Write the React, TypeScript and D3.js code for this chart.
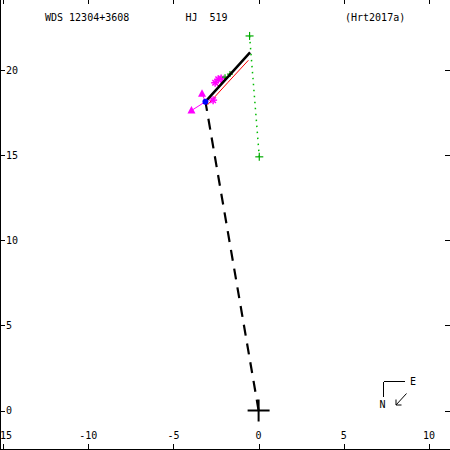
import React from "react";
import * as d3 from "d3";

const W = 450;
const H = 450;

// tick values
const xTicks = [-15, -10, -5, 0, 5, 10];
const yTicks = [0, 5, 10, 15, 20];

// title texts
const titleLeft = "WDS 12304+3608";
const titleMid = "HJ  519";
const titleRight = "(Hrt2017a)";

// orbit arc (black solid)
const orbitX = [-3.12, -1.8, -0.5];
const orbitY = [18.14, 19.6, 21.03];

// red line (alternate orbit)
const redX = [-3.0, -1.8, -0.6];
const redY = [17.95, 19.27, 20.57];

// line from primary to periastron (dashed)
const nodeX = [0, -3.12];
const nodeY = [0, 18.14];

// green dotted segment with end markers
const greenX = [-0.53, 0.04];
const greenY = [22.0, 14.9];

// small green plus measurements
const gPlusX = [-1.97, -1.68];
const gPlusY = [19.58, 19.76];

// magenta asterisk measurements
const astX = [-2.55, -2.37, -2.2, -2.67];
const astY = [19.25, 19.45, 19.5, 18.23];

// magenta triangle measurements
const triX = [-3.32, -3.94];
const triY = [18.61, 17.62];

// periastron dot
const periX = -3.12;
const periY = 18.14;

export default function App() {
  const x = d3.scaleLinear().domain([-15, 10]).range([3, 429]);
  const y = d3.scaleLinear().domain([0, 20]).range([410.5, 70]);

  const line = d3
    .line<[number, number]>()
    .x((d) => x(d[0]))
    .y((d) => y(d[1]));

  const orbit = orbitX.map((v, i) => [v, orbitY[i]] as [number, number]);
  const red = redX.map((v, i) => [v, redY[i]] as [number, number]);
  const node = nodeX.map((v, i) => [v, nodeY[i]] as [number, number]);
  const green = greenX.map((v, i) => [v, greenY[i]] as [number, number]);

  const font = "'DejaVu Sans Mono', monospace";

  // nearest point on the orbit polyline for O-C lines
  const nearest = (px: number, py: number): [number, number] => {
    let best: [number, number] = orbit[0];
    let bd = Infinity;
    for (let i = 0; i < orbit.length - 1; i++) {
      const [ax, ay] = orbit[i];
      const [bx, by] = orbit[i + 1];
      const dx = bx - ax, dy = by - ay;
      let t = ((px - ax) * dx + (py - ay) * dy) / (dx * dx + dy * dy);
      t = Math.max(0, Math.min(1, t));
      const qx = ax + t * dx, qy = ay + t * dy;
      const d = (qx - px) ** 2 + (qy - py) ** 2;
      if (d < bd) { bd = d; best = [qx, qy]; }
    }
    return best;
  };

  const asterisk = (cx: number, cy: number, r: number, key: string) => (
    <g key={key} stroke="#ff00ff" strokeWidth={1.5}>
      <line x1={cx - r} y1={cy} x2={cx + r} y2={cy} />
      <line x1={cx} y1={cy - r} x2={cx} y2={cy + r} />
      <line x1={cx - r * 0.7} y1={cy - r * 0.7} x2={cx + r * 0.7} y2={cy + r * 0.7} />
      <line x1={cx - r * 0.7} y1={cy + r * 0.7} x2={cx + r * 0.7} y2={cy - r * 0.7} />
    </g>
  );

  const plus = (cx: number, cy: number, r: number, color: string, sw: number, key: string) => (
    <g key={key} stroke={color} strokeWidth={sw}>
      <line x1={cx - r} y1={cy} x2={cx + r} y2={cy} />
      <line x1={cx} y1={cy - r} x2={cx} y2={cy + r} />
    </g>
  );

  return (
    <svg
      width={W}
      height={H}
      style={{ position: "absolute", left: 0, top: 0, background: "#fff" }}
    >
      <rect x={0} y={0} width={W} height={H} fill="#fff" />
      {/* frame */}
      <g stroke="#000" strokeWidth={1} shapeRendering="crispEdges">
        <line x1={0.5} y1={0} x2={0.5} y2={449.5} />
        <line x1={0} y1={449.5} x2={450} y2={449.5} />
        {xTicks.map((t) => (
          <g key={"xt" + t}>
            <line x1={Math.round(x(t)) + 0.5} y1={0} x2={Math.round(x(t)) + 0.5} y2={4} />
            <line x1={Math.round(x(t)) + 0.5} y1={444} x2={Math.round(x(t)) + 0.5} y2={449} />
          </g>
        ))}
        {yTicks.map((t) => (
          <g key={"yt" + t}>
            <line x1={0} y1={Math.round(y(t)) + 0.5} x2={5} y2={Math.round(y(t)) + 0.5} />
            <line x1={445} y1={Math.round(y(t)) + 0.5} x2={450} y2={Math.round(y(t)) + 0.5} />
          </g>
        ))}
      </g>
      {/* tick labels */}
      <g fontFamily={font} fontSize={10} fill="#000">
        {xTicks.map((t) => (
          <text key={"xl" + t} x={x(t)} y={438.5} textAnchor="middle">
            {t < 0 ? "-" + Math.abs(t) : String(t)}
          </text>
        ))}
        {yTicks.map((t) => (
          <text key={"yl" + t} x={6} y={y(t) + 3.8}>
            {String(t)}
          </text>
        ))}
      </g>
      {/* titles */}
      <g fontFamily={font} fontSize={10} fill="#000">
        <text x={45} y={20.5} xmlSpace="preserve" style={{ whiteSpace: "pre" }}>{titleLeft}</text>
        <text x={185.5} y={20.5} xmlSpace="preserve" style={{ whiteSpace: "pre" }}>{titleMid}</text>
        <text x={345} y={20.5} xmlSpace="preserve" style={{ whiteSpace: "pre" }}>{titleRight}</text>
      </g>

      {/* green dotted segment */}
      <path
        d={line(green) || ""}
        fill="none"
        stroke="#00bb00"
        strokeWidth={1.5}
        strokeDasharray="1.5,4.5"
      />
      {green.map((p, i) => plus(x(p[0]), y(p[1]), 4, "#00aa00", 1.2, "gp" + i))}

      {/* dashed line of nodes */}
      <path
        d={line(node) || ""}
        fill="none"
        stroke="#000"
        strokeWidth={2.2}
        strokeDasharray="11,8"
      />

      {/* red line */}
      <path d={line(red) || ""} fill="none" stroke="#ff0000" strokeWidth={1} />

      {/* O-C lines */}
      {astX.map((v, i) => {
        const q = nearest(v, astY[i]);
        return (
          <line key={"oca" + i} x1={x(v)} y1={y(astY[i])} x2={x(q[0])} y2={y(q[1])} stroke="#ff0000" strokeWidth={1} />
        );
      })}
      {triX.map((v, i) => (
        <line key={"oct" + i} x1={x(v)} y1={y(triY[i])} x2={x(periX)} y2={y(periY)} stroke="#ff00ff" strokeWidth={1} />
      ))}

      {/* magenta asterisks */}
      {astX.map((v, i) => asterisk(x(v), y(astY[i]), 4, "as" + i))}

      {/* magenta triangles */}
      {triX.map((v, i) => {
        const cx = x(v), cy = y(triY[i]);
        const pts = `${cx},${cy - 4.5} ${cx - 4},${cy + 3} ${cx + 4},${cy + 3}`;
        return <polygon key={"tr" + i} points={pts} fill="#ff00ff" />;
      })}

      {/* green small plus */}
      {gPlusX.map((v, i) => plus(x(v), y(gPlusY[i]), 3, "#00aa00", 1.2, "gs" + i))}

      {/* orbit arc */}
      <path d={line(orbit) || ""} fill="none" stroke="#000" strokeWidth={2.5} />

      {/* periastron dot */}
      <circle cx={x(periX)} cy={y(periY)} r={3} fill="#0000ff" />

      {/* primary */}
      {plus(x(0), y(0), 11, "#000", 2, "prim")}

      {/* compass */}
      <g stroke="#000" strokeWidth={1} fill="none" shapeRendering="crispEdges">
        <line x1={383.5} y1={381.5} x2={405} y2={381.5} />
        <line x1={383.5} y1={381.5} x2={383.5} y2={397} />
      </g>
      <g stroke="#000" strokeWidth={1} fill="none">
        <line x1={406.5} y1={393.5} x2={396} y2={405} />
        <line x1={396} y1={405} x2={396} y2={399.5} />
        <line x1={396} y1={405} x2={401.5} y2={405} />
      </g>
      <g fontFamily={font} fontSize={10} fill="#000">
        <text x={410} y={385}>E</text>
        <text x={379.5} y={407.5}>N</text>
      </g>
    </svg>
  );
}
